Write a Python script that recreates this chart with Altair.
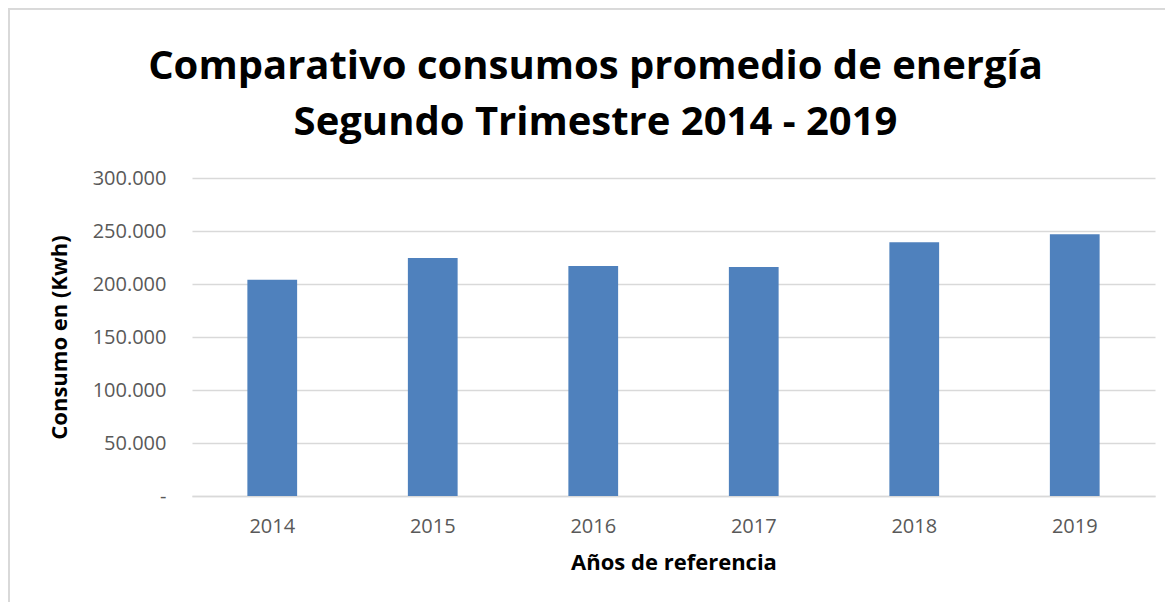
import altair as alt
import pandas as pd

years = ["2014", "2015", "2016", "2017", "2018", "2019"]
consumo = [204000, 224500, 217000, 216000, 239500, 247000]

df = pd.DataFrame({"year": years, "consumo": consumo})

label_expr = "datum.value == 0 ? '-' : replace(format(datum.value, ',.0f'), ',', '.')"

bars = alt.Chart(df).mark_bar(color="#4F81BD").encode(
    x=alt.X("year:N", sort=years,
            scale=alt.Scale(paddingInner=0.69, paddingOuter=0.345),
            axis=alt.Axis(title="Años de referencia", labelAngle=0, ticks=False,
                          domainColor="#D9D9D9", domainWidth=1.3,
                          labelPadding=20, titlePadding=16)),
    y=alt.Y("consumo:Q", scale=alt.Scale(domain=[0, 300000], nice=False),
            axis=alt.Axis(title="Consumo en (Kwh)", values=[0, 50000, 100000, 150000, 200000, 250000, 300000],
                          labelExpr=label_expr, ticks=False, domain=False,
                          gridColor="#D9D9D9", gridWidth=1.3,
                          labelPadding=26, titlePadding=21)),
)

border = alt.Chart(df).mark_rect(fill="transparent", stroke="#D9D9D9", strokeWidth=1.5).encode(
    x=alt.value(-183.2), x2=alt.value(995), y=alt.value(-169.2), y2=alt.value(450)
)

chart = (bars + border).properties(
    width=963, height=318,
    autosize=alt.AutoSizeParams(type="none"),
    padding={"left": 184, "top": 170, "right": 10, "bottom": 106},
    title=alt.TitleParams(
        text=["Comparativo consumos promedio de energía", "Segundo Trimestre 2014 - 2019"],
        anchor="middle", dx=-78, fontSize=40, font="Open Sans", fontWeight="bold",
        color="#000000", lineHeight=56, offset=-135,
    ),
).configure_view(stroke=None).configure_axis(
    labelFont="Open Sans", labelFontSize=20, labelColor="#595959",
    titleFont="Open Sans", titleFontSize=22, titleFontWeight="bold", titleColor="#000000",
)

chart.save("out.html", embed_options={"renderer": "svg", "actions": False})
